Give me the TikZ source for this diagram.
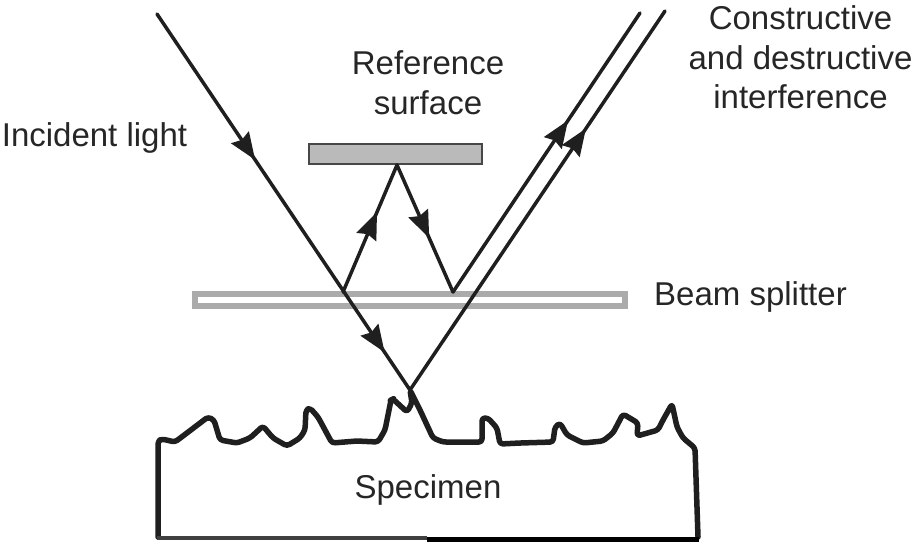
\documentclass[tikz,border=0pt]{standalone}
\usepackage{fontspec}
\setmainfont{Liberation Sans}
\usetikzlibrary{arrows.meta,decorations.markings}
\tikzset{
  beam/.style={draw=black!88,line width=3.5pt,line cap=round,line join=miter},
  head/.style={postaction={decorate,decoration={markings,mark=at position #1 with {\arrow{Stealth[length=27pt,width=21pt,inset=3pt]}}}}},
  lab/.style={font=\fontsize{33}{39.5}\selectfont,text=black!85,align=center,inner sep=0pt,anchor=center},
  edge0/.style={draw=black!88,line width=5.5pt,line join=round,line cap=round}
}
\begin{document}
\begin{tikzpicture}[x=1pt,y=-1pt]
\useasboundingbox (0,0) rectangle (917,542);
% specimen
\draw[edge0,rounded corners=3pt] (158,537) -- (158,441) -- (162,439) -- (175,442) -- (208,417) -- (214,420) -- (220,440) -- (237,443) -- (250,438) -- (263,426) -- (273,438) -- (287,446) -- (300,438) -- (305,430) -- (306,410) -- (310,408) -- (318,417) -- (332,443) -- (357,441) -- (378,442) -- (385,430) -- (391,400) -- (393,399) -- (407,412) -- (412,403) -- (410,390) -- (420,410) -- (433,438) -- (443,442) -- (482,442) -- (482,418) -- (488,418) -- (497,428) -- (500,444) -- (520,443) -- (553,442) -- (555,427) -- (560,423) -- (567,435) -- (583,443) -- (603,441) -- (613,433) -- (623,414) -- (638,423) -- (637,436) -- (658,430) -- (663,420) -- (672,404) -- (677,427) -- (683,438) -- (695,448) -- (698,537);
\draw[draw=black!75,line width=4pt] (157,537.5) -- (427,537.5);
\draw[draw=black,line width=5pt] (427,539) -- (699,539);
% beam splitter
\node[draw=black!33,line width=6pt,fill=white,minimum width=430pt,minimum height=12pt,inner sep=0pt] (bs) at (410,300) {};
% reference surface
\node[draw=black!72,line width=2pt,fill=black!27,minimum width=173pt,minimum height=20pt,inner sep=0pt] (ref) at (395.5,154) {};
% beams
\coordinate (in) at (157,14);
\coordinate (hit) at (410,390);
\coordinate (split) at (343,292);
\coordinate (top) at (397,165);
\coordinate (back) at (453,292);
\coordinate (out1) at (640,13);
\coordinate (out2) at (665,11);
\draw[beam,head=0.388,head=0.90] (in) -- (hit);
\draw[beam,head=0.63] (split) -- (top);
\draw[beam,head=0.575] (top) -- (back);
\draw[beam,head=0.615] (back) -- (out1);
\draw[beam,head=0.69] (hit) -- (out2);
% labels
\node[lab] (l1) at (94.5,137.5) {Incident light};
\node[lab] (l2) at (428,82.5) {Reference\\surface};
\node[lab] (l3) at (800.5,57.5) {Constructive\\and destructive\\interference};
\node[lab] (l4) at (750.5,296.5) {Beam splitter};
\node[lab] (l5) at (428,489.5) {Specimen};
\end{tikzpicture}
\end{document}
